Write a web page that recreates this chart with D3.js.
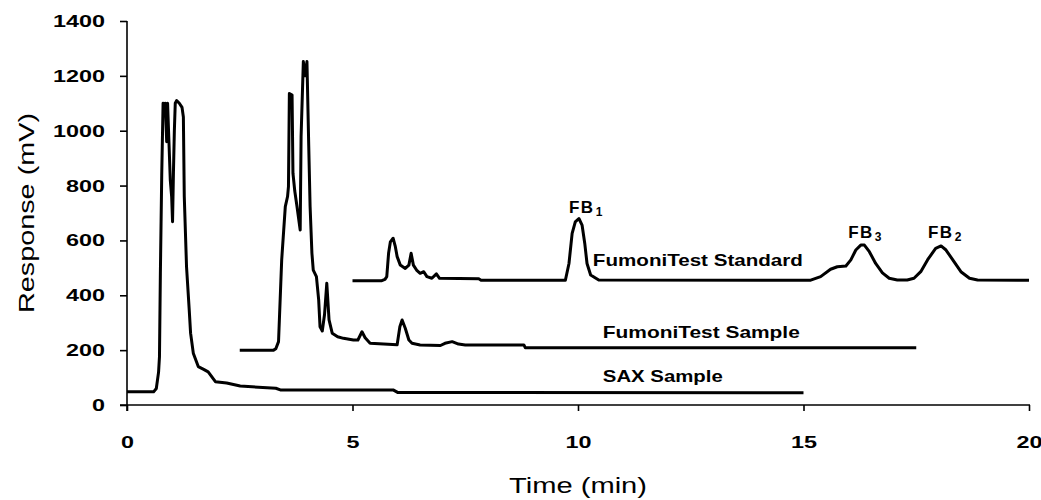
<!DOCTYPE html>
<html>
<head>
<meta charset="utf-8">
<script src="https://cdn.jsdelivr.net/npm/d3@7/dist/d3.min.js"></script>
<style>
  html, body { margin: 0; padding: 0; background: #fff; }
  svg { display: block; }
  text { font-family: "Liberation Sans", Arial, sans-serif; fill: #000; }
</style>
</head>
<body>
<svg id="chart" width="1041" height="500"></svg>
<script>
// ---- data ----
const xTicks = [0, 5, 10, 15, 20];
const yTicks = [0, 200, 400, 600, 800, 1000, 1200, 1400];

const saxTime = [0, 0.59, 0.65, 0.70, 0.72, 0.74, 0.77, 0.80, 0.83, 0.85, 0.88, 0.90, 0.93, 0.96, 0.99, 1.01, 1.03, 1.05, 1.07, 1.10, 1.16, 1.22, 1.25, 1.27, 1.32, 1.38, 1.41, 1.47, 1.58, 1.70, 1.80, 1.96, 2.21, 2.51, 3.3, 3.4, 5.9, 6.0, 15];
const saxValue = [48, 48, 60, 120, 176, 480, 838, 1100, 1060, 1100, 960, 1100, 960, 820, 760, 668, 850, 1000, 1100, 1110, 1100, 1085, 1050, 760, 504, 346, 262, 189, 140, 130, 121, 85, 80, 69, 61, 55, 55, 46, 45];

const sampleTime = [2.5, 3.25, 3.30, 3.36, 3.43, 3.51, 3.56, 3.58, 3.60, 3.66, 3.68, 3.72, 3.77, 3.84, 3.86, 3.91, 3.95, 3.99, 4.03, 4.06, 4.10, 4.13, 4.20, 4.25, 4.28, 4.33, 4.38, 4.43, 4.48, 4.55, 4.67, 4.80, 5.02, 5.12, 5.21, 5.28, 5.39, 5.99, 6.05, 6.10, 6.17, 6.25, 6.32, 6.50, 6.95, 7.05, 7.21, 7.35, 7.5, 8.8, 8.83, 17.5];
const sampleValue = [200, 200, 205, 231, 529, 723, 760, 796, 1136, 1130, 845, 780, 723, 638, 978, 1252, 1200, 1252, 942, 723, 554, 492, 468, 383, 285, 270, 330, 444, 310, 262, 249, 243, 237, 237, 267, 245, 225, 220, 285, 310, 280, 237, 225, 219, 217, 225, 231, 222, 219, 219, 209, 209];

const stdTime = [5.0, 5.65, 5.72, 5.76, 5.80, 5.84, 5.90, 5.95, 5.99, 6.06, 6.17, 6.25, 6.30, 6.35, 6.42, 6.50, 6.58, 6.65, 6.76, 6.86, 6.93, 7.8, 7.85, 9.72, 9.80, 9.87, 9.94, 10.02, 10.09, 10.15, 10.20, 10.28, 10.46, 15.16, 15.38, 15.6, 15.75, 15.94, 16.05, 16.16, 16.27, 16.35, 16.46, 16.6, 16.75, 16.9, 17.08, 17.3, 17.45, 17.6, 17.75, 17.93, 18.05, 18.16, 18.31, 18.49, 18.68, 18.86, 20.0];
const stdValue = [453, 453, 458, 468, 553, 595, 608, 577, 541, 510, 498, 510, 553, 510, 492, 480, 486, 468, 462, 478, 462, 460, 455, 455, 516, 626, 668, 680, 656, 589, 516, 474, 456, 455, 468, 495, 504, 507, 529, 565, 583, 583, 559, 516, 482, 462, 456, 456, 462, 486, 529, 571, 580, 565, 529, 486, 462, 456, 455];

const seriesNames = ["FumoniTest Standard", "FumoniTest Sample", "SAX Sample"];
// label anchors in data units (time, response)
const seriesLabelTime = [10.33, 10.55, 10.55];
const seriesLabelValue = [507, 244, 84];
const peakNames = ["FB", "FB", "FB"];
const peakSubs = ["1", "3", "2"];
const peakLabelTime = [9.8, 15.99, 17.76];
const peakLabelValue = [700, 609, 609];

// ---- layout ----
const svg = d3.select("#chart");
const x = d3.scaleLinear().domain([0, 20]).range([127, 1029]);
const y = d3.scaleLinear().domain([0, 1400]).range([405, 21]);
const fmt = d3.format("d");

// axes
const yAxis = d3.axisLeft(y).tickValues(yTicks).tickFormat(fmt).tickSize(7).tickPadding(15).tickSizeOuter(0);
const xAxis = d3.axisBottom(x).tickValues(xTicks).tickFormat(fmt).tickSize(6).tickPadding(25).tickSizeOuter(0);

const gy = svg.append("g").attr("transform", `translate(${x(0)},0)`).call(yAxis);
const gx = svg.append("g").attr("transform", `translate(0,${y(0)})`).call(xAxis);
[gx, gy].forEach(g => {
  g.select(".domain").remove();
  g.selectAll(".tick line").attr("stroke", "#000").attr("stroke-width", 1.6);
  g.selectAll(".tick text")
    .attr("font-family", "'Liberation Sans', Arial, sans-serif")
    .attr("font-size", 17).attr("font-weight", "bold").attr("fill", "#000")
    .attr("textLength", d => fmt(d).length * 13)
    .attr("lengthAdjust", "spacingAndGlyphs");
});
// axis lines
svg.append("line").attr("x1", x(0)).attr("x2", x(0)).attr("y1", y(1400)).attr("y2", y(0) + 6)
  .attr("stroke", "#000").attr("stroke-width", 1.6);
svg.append("line").attr("x1", x(0) - 7).attr("x2", x(20) + 1).attr("y1", y(0)).attr("y2", y(0))
  .attr("stroke", "#000").attr("stroke-width", 1.6);

// axis titles
svg.append("text").attr("x", (x(0) + x(20)) / 2).attr("y", 493)
  .attr("text-anchor", "middle").attr("font-size", 22)
  .attr("textLength", 138).attr("lengthAdjust", "spacingAndGlyphs")
  .text("Time (min)");
svg.append("text").attr("transform", `translate(34,${213}) rotate(-90)`)
  .attr("text-anchor", "middle").attr("font-size", 22)
  .attr("textLength", 200).attr("lengthAdjust", "spacingAndGlyphs")
  .text("Response (mV)");

// series
const line = d3.line().x(d => x(d[0])).y(d => y(d[1]));
const series = [
  d3.zip(stdTime, stdValue),
  d3.zip(sampleTime, sampleValue),
  d3.zip(saxTime, saxValue)
];
svg.append("g").selectAll("path").data(series).join("path")
  .attr("d", line).attr("fill", "none").attr("stroke", "#000")
  .attr("stroke-width", 3).attr("stroke-linejoin", "round");

// series labels
const labelWidths = [210, 197, 120];
svg.append("g").selectAll("text").data(seriesNames).join("text")
  .attr("x", (d, i) => x(seriesLabelTime[i]))
  .attr("y", (d, i) => y(seriesLabelValue[i]))
  .attr("font-size", 17).attr("font-weight", "bold")
  .attr("textLength", (d, i) => labelWidths[i]).attr("lengthAdjust", "spacingAndGlyphs")
  .text(d => d);

// peak labels
const pk = svg.append("g").selectAll("text").data(peakNames).join("text")
  .attr("x", (d, i) => x(peakLabelTime[i]))
  .attr("y", (d, i) => y(peakLabelValue[i]))
  .attr("font-size", 17).attr("font-weight", "bold");
pk.append("tspan").attr("letter-spacing", 1.5).text(d => d);
pk.append("tspan").attr("font-size", 12).attr("dy", 3).attr("dx", 1).text((d, i) => peakSubs[i]);
</script>
</body>
</html>
